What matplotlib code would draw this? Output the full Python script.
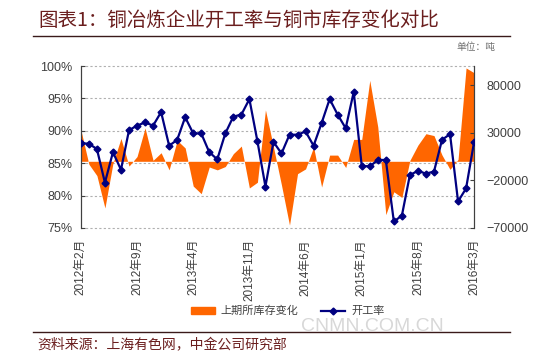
import numpy as np
import matplotlib
matplotlib.use('Agg')
import matplotlib.pyplot as plt
from matplotlib.ticker import FuncFormatter
from matplotlib.lines import Line2D
from matplotlib.patches import Patch

plt.rcParams['font.family'] = ['Liberation Sans', 'Noto Sans CJK SC']

# monthly data, 2012-02 .. 2016-03
months = ['2012年2月', '2012年9月', '2013年4月', '2013年11月',
          '2014年6月', '2015年1月', '2015年8月', '2016年3月']

# 开工率 (%)
rate = [88.1, 88.0, 87.2, 82.0, 86.7, 84.0, 90.1, 90.8, 91.3, 90.8,
        92.9, 87.7, 88.6, 92.1, 89.6, 89.6, 86.7, 85.6, 89.6, 92.2,
        92.5, 94.9, 88.4, 81.4, 88.3, 86.5, 89.4, 89.4, 89.9, 87.7,
        91.2, 94.9, 92.5, 90.4, 96.0, 84.6, 84.5, 85.5, 85.5, 76.0,
        76.9, 83.2, 83.8, 83.4, 83.7, 88.6, 89.5, 79.1, 81.1, 88.3]

# 上期所库存变化 (吨)
stock = [33000, -3000, -15000, -49000, -2000, 24000, -5000, 5000, 35000, 1000,
         9000, -9000, 22000, 14000, -26000, -34000, -6000, -9000, -5500, 8000,
         16000, -28000, -22000, 54000, 15000, -25000, -67000, -13000, -8000, 15000,
         -27000, 6500, 6500, -6500, 23000, 23000, 85000, 36000, -56000, -32000,
         -38000, 1000, 17000, 29000, 27000, 6600, -8500, 2000, 98000, 93000]

x = np.arange(len(rate))
tick_pos = np.arange(0, len(rate), 7)

fig = plt.figure(figsize=(5.5, 3.63), dpi=100)
ax = fig.add_axes([0.147, 0.372, 0.715, 0.446])
ax2 = ax.twinx()

ax.set_zorder(ax2.get_zorder() + 1)
ax.patch.set_visible(False)

# grid lines below the area
for p in [75, 80, 85, 90, 95, 100]:
    ax2.plot([0, 1], [p, p], transform=ax.get_yaxis_transform(),
             color='#b0b0b0', lw=0.8, ls=(0, (2, 2)), zorder=0.5, clip_on=False)

ax2.fill_between(x, 0, stock, color='#ff6600', lw=0, zorder=1)
ax.plot(x, rate, color='#000080', lw=1.6, marker='D', ms=3.5, zorder=3)

ax.set_xlim(0, len(rate) - 1)
ax.set_ylim(75, 100)
ax.set_yticks([75, 80, 85, 90, 95, 100])
ax.yaxis.set_major_formatter(FuncFormatter(lambda v, _: '%d%%' % v))
ax2.set_ylim(-70000, 100000)
ax2.set_yticks([-70000, -20000, 30000, 80000])

ax.set_xticks(tick_pos)
ax.set_xticklabels(months, rotation=90, fontsize=8.5, color='#404040')

for a in (ax, ax2):
    a.spines['top'].set_visible(False)
    a.spines['bottom'].set_visible(False)
    a.spines['left'].set_color('#404040')
    a.spines['right'].set_color('#404040')

ax.tick_params(axis='y', direction='in', length=3, labelsize=9, colors='#404040', pad=6)
ax.tick_params(axis='x', length=0, pad=8)
ax2.tick_params(axis='y', direction='in', length=3, labelsize=9, colors='#404040', pad=9)

# legend
handles = [Patch(color='#ff6600'),
           Line2D([], [], color='#000080', lw=1.6, marker='D', ms=3.5)]
fig.legend(handles, ['上期所库存变化', '开工率'], loc='center', ncol=2,
           bbox_to_anchor=(0.523, 0.143), frameon=False, fontsize=8,
           handlelength=2.2, handleheight=0.5, handletextpad=0.5,
           columnspacing=2.0, labelcolor='#404040')

# title, unit, source
dark_red = '#6b1e1e'
fig.text(0.069, 0.945, '图表1：铜冶炼企业开工率与铜市库存变化对比', fontsize=14,
         color=dark_red, va='center', ha='left', family='Noto Sans CJK SC')
fig.add_artist(Line2D([0.06, 0.927], [0.901, 0.901], color='#3a1a1a', lw=1))
fig.text(0.9, 0.87, '单位：吨', fontsize=7, color='#707070', ha='right', va='center',
         family='Noto Sans CJK SC')
fig.text(0.548, 0.1, 'CNMN.COM.CN', fontsize=14, color='#d8d8d8', ha='left',
         va='center', family='Liberation Sans')
fig.add_artist(Line2D([0.06, 0.927], [0.085, 0.085], color='#3a1a1a', lw=1))
fig.text(0.067, 0.05, '资料来源：上海有色网，中金公司研究部', fontsize=10,
         color=dark_red, ha='left', va='center', family='Noto Sans CJK SC')

fig.savefig('out.png', dpi=100)
